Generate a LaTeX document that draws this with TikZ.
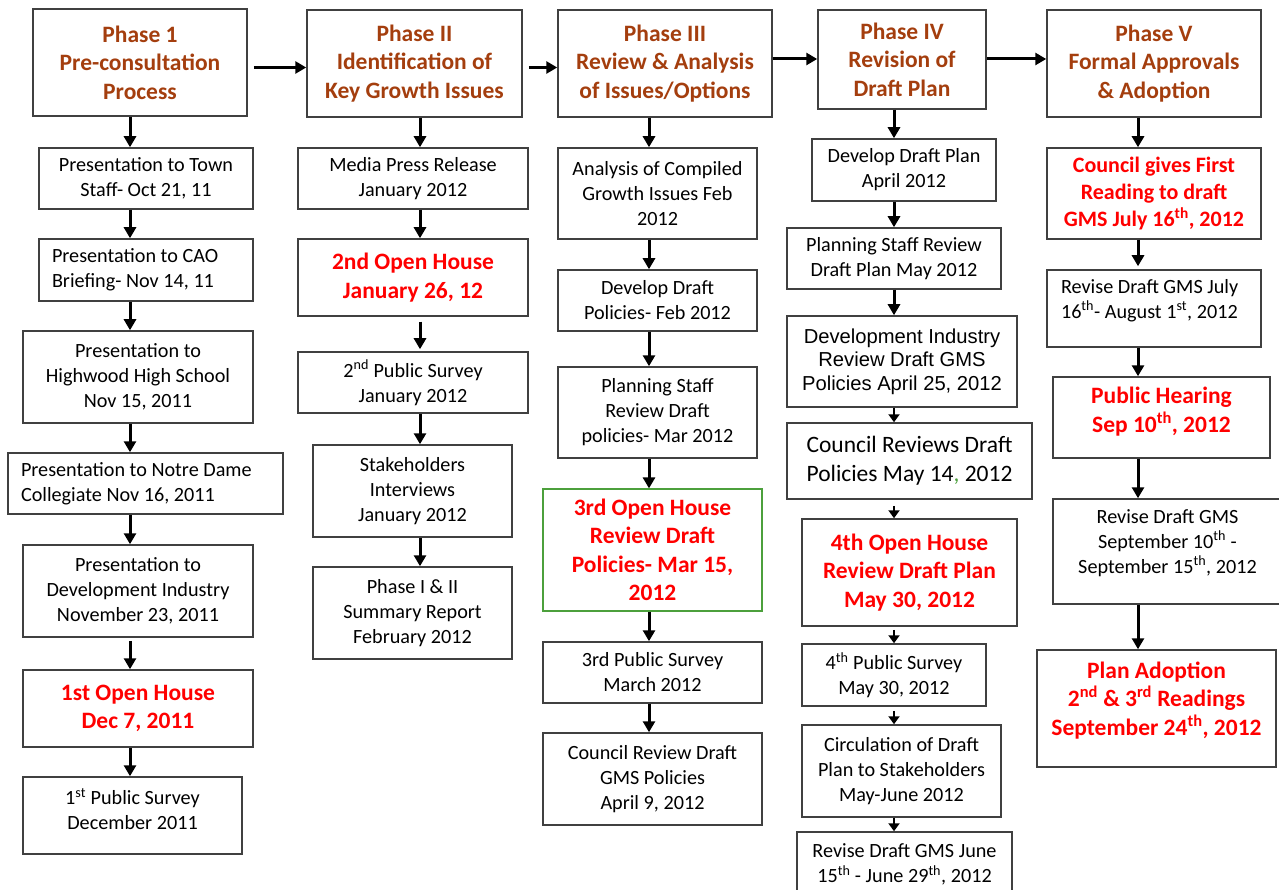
\documentclass[tikz,border=0pt]{standalone}
\usepackage{fontspec}
\setmainfont{Carlito}
\newfontfamily\arialfont{Liberation Sans}
\usetikzlibrary{arrows.meta}
\definecolor{phaseBrown}{RGB}{164,62,14}
\definecolor{eventRed}{RGB}{255,0,0}
\definecolor{edgeGray}{RGB}{64,64,64}
\definecolor{houseGreen}{RGB}{76,160,60}
\newcommand{\lowpad}[1]{\rule[-#1]{0pt}{#1}}
\tikzset{
    stepBox/.style 2 args={
        rectangle,
        draw=edgeGray,
        line width=1.5pt,
        minimum width=#1pt,
        minimum height=#2pt,
        inner sep=0pt,
        align=center,
        font=\fontsize{20.2}{25}\selectfont
    },
    % Text variants
    phaseText/.style={font=\fontsize{23.5}{28.5}\selectfont\bfseries, text=phaseBrown},
    eventText/.style={font=\fontsize{23.5}{28.5}\selectfont\bfseries, text=eventRed},
    leftText/.style={text width=#1pt, align=flush left},
    % Arrows
    flowArrow/.style={-{Triangle[length=11pt,width=12pt]}, line width=3pt},
    tinyArrow/.style={-{Triangle[length=8pt,width=11pt]}, line width=2.5pt}
}

\begin{document}
\begin{tikzpicture}[x=1pt, y=-1pt]
\useasboundingbox[fill=white] (0,0) rectangle (1279,890);

% Phase headers
\node[stepBox={214}{107}, phaseText] (p1) at (140,62.5) {Phase 1\\Pre-consultation\\Process};
\node[stepBox={215}{107}, phaseText] (p2) at (414.5,63.5) {Phase II\\Identification of\\Key Growth Issues};
\node[stepBox={214}{107}, phaseText] (p3) at (665,63.5) {Phase III\\Review \& Analysis\\of Issues/Options};
\node[stepBox={168}{99}, phaseText] (p4) at (902,59.5) {Phase IV\\Revision of\\Draft Plan};
\node[stepBox={214}{107}, phaseText] (p5) at (1154,63.5) {Phase V\\Formal Approvals\\\& Adoption};

% Phase 1 column
\node[stepBox={214}{61}] (town) at (146,178.5) {Presentation to Town\\Staff- Oct 21, 11};
\node[stepBox={214}{62}, leftText=188] (cao) at (146,270) {Presentation to CAO\\Briefing- Nov 14, 11};
\node[stepBox={230}{92}] (highwood) at (138,377) {Presentation to\\Highwood High School\\Nov 15, 2011};
\node[stepBox={275}{61}, leftText=249] (notre) at (145.5,483.5) {Presentation to Notre Dame\\Collegiate Nov 16, 2011};
\node[stepBox={230}{92}] (devind) at (138,591) {Presentation to\\Development Industry\\November 23, 2011};
\node[stepBox={230}{77}, eventText] (open1) at (138,708.5) {1st Open House\\Dec 7, 2011};
\node[stepBox={219}{77}] (survey1) at (132.5,815.5) {1\textsuperscript{st} Public Survey\\December 2011\lowpad{13pt}};

% Phase II column
\node[stepBox={230}{61}] (media) at (413,178.5) {Media Press Release\\January 2012};
\node[stepBox={230}{77}, eventText] (open2) at (413,277.5) {2nd Open House\\January 26, 12};
\node[stepBox={230}{61}] (survey2) at (413,382.5) {2\textsuperscript{nd} Public Survey\\January 2012};
\node[stepBox={199}{92}] (stake) at (412.5,491) {Stakeholders\\Interviews\\January 2012};
\node[stepBox={199}{92}] (summary) at (412.5,613) {Phase I \& II\\Summary Report\\February 2012};

% Phase III column
\node[stepBox={199}{91}] (analysis) at (657.5,193.5) {Analysis of Compiled\\Growth Issues Feb\\2012};
\node[stepBox={199}{61}] (policies) at (657.5,300.5) {Develop Draft\\Policies- Feb 2012};
\node[stepBox={199}{91}] (staffrev) at (657.5,412.5) {Planning Staff\\Review Draft\\policies- Mar 2012};
\node[stepBox={219}{122}, eventText, draw=houseGreen, line width=1.2pt] (open3) at (652.5,550) {3rd Open House\\Review Draft\\Policies- Mar 15,\\2012};
\node[stepBox={219}{61}] (survey3) at (652.5,672.5) {3rd Public Survey\\March 2012};
\node[stepBox={219}{92}] (council) at (652.5,779) {Council Review Draft\\GMS Policies\\April 9, 2012};

% Phase IV column
\node[stepBox={184}{62}] (draftplan) at (904,170) {Develop Draft Plan\\April 2012};
\node[stepBox={214}{61}] (staffplan) at (894,258.5) {Planning Staff Review\\Draft Plan May 2012};
\node[stepBox={230}{91}, font=\arialfont\fontsize{20.2}{23.5}\selectfont] (devrev) at (902,361.5) {Development Industry\\Review Draft GMS\\Policies April 25, 2012};
\node[stepBox={245}{76}, font=\fontsize{23.5}{29}\selectfont] (councilrev) at (909.5,461) {Council Reviews Draft\\Policies May 14{\color{houseGreen},} 2012};
\node[stepBox={215}{107}, eventText] (open4) at (909.5,572.5) {4th Open House\\Review Draft Plan\\May 30, 2012};
\node[stepBox={184}{62}] (survey4) at (894,675) {4\textsuperscript{th} Public Survey\\May 30, 2012};
\node[stepBox={199}{92}] (circ) at (901.5,771) {Circulation of Draft\\Plan to Stakeholders\\May-June 2012};
\node[stepBox={215}{65}] (revjune) at (904.5,864.5) {Revise Draft GMS June\\15\textsuperscript{th} - June 29\textsuperscript{th}, 2012};

% Phase V column
\node[stepBox={214}{91}, eventText, font=\fontsize{22}{27}\selectfont\bfseries] (first) at (1154,193.5) {Council gives First\\Reading to draft\\GMS July 16\textsuperscript{th}, 2012};
\node[stepBox={214}{77}, leftText=186] (revjuly) at (1154,308.5) {Revise Draft GMS July\\16\textsuperscript{th}- August 1\textsuperscript{st}, 2012\lowpad{19pt}};
\node[stepBox={217}{81}, eventText] (hearing) at (1161.5,417.5) {Public Hearing\\Sep 10\textsuperscript{th}, 2012\lowpad{15pt}};
\node[stepBox={229}{105}] (revsep) at (1167.5,551.5) {Revise Draft GMS\\September 10\textsuperscript{th} -\\September 15\textsuperscript{th}, 2012\lowpad{20pt}};
\node[stepBox={239}{117}, eventText] (adoption) at (1156.5,708.5) {Plan Adoption\\2\textsuperscript{nd} \& 3\textsuperscript{rd} Readings\\September 24\textsuperscript{th}, 2012\lowpad{20pt}};

% arrow lanes
\coordinate (laneA) at (130,0);
\coordinate (laneB) at (420,0);
\coordinate (laneC) at (649,0);
\coordinate (laneD) at (894,0);
\coordinate (laneE) at (1138,0);
\coordinate (rowLow) at (0,67.5);
\coordinate (rowHigh) at (0,59);

% Phase to phase
\draw[flowArrow, shorten <=6pt] (p1.east |- rowLow) -- (p2.west |- rowLow);
\draw[flowArrow, shorten <=6pt] (p2.east |- rowLow) -- (p3.west |- rowLow);
\draw[flowArrow] (p3.east |- rowHigh) -- (p4.west |- rowHigh);
\draw[flowArrow] (p4.east |- rowHigh) -- (p5.west |- rowHigh);

% Phase 1 arrows
\draw[flowArrow] (p1.south -| laneA) -- (town.north -| laneA);
\draw[flowArrow] (town.south -| laneA) -- (cao.north -| laneA);
\draw[flowArrow] (cao.south -| laneA) -- (highwood.north -| laneA);
\draw[flowArrow] (highwood.south -| laneA) -- (notre.north -| laneA);
\draw[flowArrow] (notre.south -| laneA) -- (devind.north -| laneA);
\draw[flowArrow, shorten <=3pt] (devind.south -| laneA) -- (open1.north -| laneA);
\draw[flowArrow] (open1.south -| laneA) -- (survey1.north -| laneA);

% Phase II arrows
\draw[flowArrow] (p2.south -| laneB) -- (media.north -| laneB);
\draw[flowArrow] (media.south -| laneB) -- (open2.north -| laneB);
\draw[flowArrow, shorten <=5pt, shorten >=2pt] (open2.south -| laneB) -- (survey2.north -| laneB);
\draw[flowArrow] (survey2.south -| laneB) -- (stake.north -| laneB);
\draw[flowArrow] (stake.south -| laneB) -- (summary.north -| laneB);

% Phase III arrows
\draw[flowArrow] (p3.south -| laneC) -- (analysis.north -| laneC);
\draw[flowArrow] (analysis.south -| laneC) -- (policies.north -| laneC);
\draw[flowArrow] (policies.south -| laneC) -- (staffrev.north -| laneC);
\draw[flowArrow] (staffrev.south -| laneC) -- (open3.north -| laneC);
\draw[flowArrow] (open3.south -| laneC) -- (survey3.north -| laneC);
\draw[flowArrow] (survey3.south -| laneC) -- (council.north -| laneC);

% Phase IV arrows
\draw[flowArrow] (p4.south -| laneD) -- (draftplan.north -| laneD);
\draw[flowArrow] (draftplan.south -| laneD) -- (staffplan.north -| laneD);
\draw[flowArrow] (staffplan.south -| laneD) -- (devrev.north -| laneD);
\draw[tinyArrow] (devrev.south -| laneD) -- (councilrev.north -| laneD);
\draw[tinyArrow, shorten <=6pt] (councilrev.south -| laneD) -- (open4.north -| laneD);
\draw[tinyArrow, shorten <=3pt] (open4.south -| laneD) -- (survey4.north -| laneD);
\draw[tinyArrow, shorten <=4pt] (survey4.south -| laneD) -- (circ.north -| laneD);
\draw[tinyArrow] (circ.south -| laneD) -- (revjune.north -| laneD);

% Phase V arrows
\draw[flowArrow] (p5.south -| laneE) -- (first.north -| laneE);
\draw[flowArrow, shorten >=3pt] (first.south -| laneE) -- (revjuly.north -| laneE);
\draw[flowArrow] (revjuly.south -| laneE) -- (hearing.north -| laneE);
\draw[flowArrow] (hearing.south -| laneE) -- (revsep.north -| laneE);
\draw[flowArrow] (revsep.south -| laneE) -- (adoption.north -| laneE);
\end{tikzpicture}
\end{document}
